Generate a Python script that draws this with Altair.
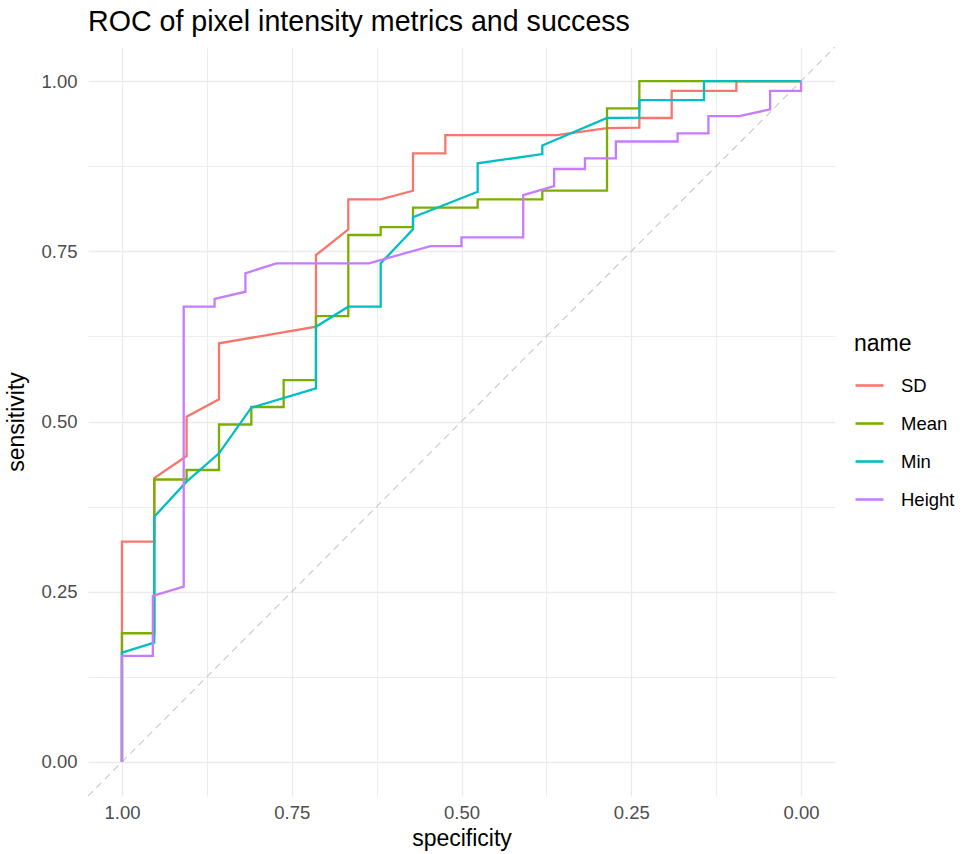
import altair as alt
import pandas as pd

names = ["SD", "Mean", "Min", "Height"]
colors = ["#F8766D", "#7CAE00", "#00BFC4", "#C77CFF"]

sd_spec = [1, 1, 0.9524, 0.9524, 0.9048, 0.9048, 0.8571, 0.8571, 0.7143, 0.7143, 0.6667, 0.6667, 0.6190,
           0.5714, 0.5714, 0.5238, 0.5238, 0.3598, 0.2857, 0.2381, 0.2381, 0.1905, 0.1905, 0.0952, 0.0952, 0]
sd_sens = [0, 0.3235, 0.3235, 0.4170, 0.4493, 0.5070, 0.5326, 0.6148, 0.6392, 0.7445, 0.7822, 0.8263, 0.8263,
           0.8389, 0.8938, 0.8938, 0.9207, 0.9207, 0.9310, 0.9317, 0.9457, 0.9457, 0.9857, 0.9857, 1.0, 1.0]

mean_spec = [1, 1, 0.9524, 0.9524, 0.9048, 0.9048, 0.8571, 0.8571, 0.8095, 0.8095, 0.7619, 0.7619, 0.7143,
             0.7143, 0.6667, 0.6667, 0.6190, 0.6190, 0.5714, 0.5714, 0.4762, 0.4762, 0.3810, 0.3810, 0.2857,
             0.2857, 0.2381, 0.2381, 0]
mean_sens = [0, 0.1890, 0.1890, 0.4148, 0.4148, 0.4288, 0.4288, 0.4956, 0.4956, 0.5213, 0.5213, 0.5609, 0.5609,
             0.6549, 0.6549, 0.7739, 0.7739, 0.7856, 0.7856, 0.8142, 0.8142, 0.8263, 0.8263, 0.8392, 0.8392,
             0.9599, 0.9599, 1, 1]

min_spec = [1, 1, 0.9524, 0.9524, 0.9048, 0.8571, 0.8095, 0.7143, 0.7143, 0.6667, 0.6190, 0.6190, 0.5714,
            0.5714, 0.4762, 0.4762, 0.3810, 0.3810, 0.2857, 0.2381, 0.2381, 0.1429, 0.1429, 0]
min_sens = [0, 0.1605, 0.1752, 0.3602, 0.4116, 0.4533, 0.5203, 0.5487, 0.6392, 0.6686, 0.6686, 0.7323, 0.7822,
            0.7999, 0.8374, 0.8791, 0.8928, 0.9053, 0.9457, 0.9464, 0.9721, 0.9721, 1, 1]

height_spec = [1, 1, 0.9545, 0.9545, 0.9091, 0.9091, 0.8636, 0.8636, 0.8182, 0.8182, 0.7727, 0.6364, 0.5455,
               0.5, 0.5, 0.4091, 0.4091, 0.3636, 0.3636, 0.3182, 0.3182, 0.2727, 0.2727, 0.1818, 0.1818,
               0.1364, 0.1364, 0.0909, 0.0455, 0.0455, 0, 0]
height_sens = [0, 0.1557, 0.1557, 0.2438, 0.2574, 0.6686, 0.6686, 0.6799, 0.6906, 0.7176, 0.7323, 0.7323,
               0.7577, 0.7577, 0.7705, 0.7705, 0.8326, 0.8458, 0.8708, 0.8708, 0.8865, 0.8865, 0.9112, 0.9112,
               0.9232, 0.9232, 0.9486, 0.9486, 0.9584, 0.9857, 0.9857, 1]

grid_values = [0, 0.125, 0.25, 0.375, 0.5, 0.625, 0.75, 0.875, 1]
diag_spec = [1.05, -0.05]
diag_sens = [-0.05, 1.05]

rows = []
for nm, sp, se in zip(names, [sd_spec, mean_spec, min_spec, height_spec],
                      [sd_sens, mean_sens, min_sens, height_sens]):
    for i, (a, b) in enumerate(zip(sp, se)):
        rows.append({"name": nm, "specificity": a, "sensitivity": b, "idx": i})
df = pd.DataFrame(rows)
diag = pd.DataFrame({"specificity": diag_spec, "sensitivity": diag_sens})

FONT = "Liberation Sans"
label_expr = "(datum.value * 4) % 1 == 0 ? format(datum.value, '.2f') : ''"
grid_w = {"condition": {"test": "(datum.value * 4) % 1 == 0", "value": 1.3}, "value": 0.9}

xscale = alt.Scale(domain=[-0.05, 1.05], reverse=True, nice=False, zero=False)
yscale = alt.Scale(domain=[-0.05, 1.05], nice=False, zero=False)

xaxis = alt.Axis(values=grid_values, labelExpr=label_expr, grid=True, gridColor="#EBEBEB",
                 gridWidth=grid_w, ticks=False, tickSize=0, domain=False, labelFontSize=18.5,
                 labelColor="#4D4D4D", labelPadding=7, labelOverlap=False, labelFont=FONT,
                 title="specificity", titleFontSize=23, titleFontWeight="normal", titleColor="black",
                 titleFont=FONT, titlePadding=6)
yaxis = alt.Axis(values=grid_values, labelExpr=label_expr, grid=True, gridColor="#EBEBEB",
                 gridWidth=grid_w, ticks=False, tickSize=0, domain=False, labelFontSize=18.5,
                 labelColor="#4D4D4D", labelPadding=11, labelOverlap=False, labelFont=FONT,
                 title="sensitivity", titleFontSize=23, titleFontWeight="normal", titleColor="black",
                 titleFont=FONT, titlePadding=12)

diag_layer = alt.Chart(diag).mark_line(color="#C8C8C8", strokeWidth=1.1, strokeDash=[7, 5], clip=True).encode(
    x=alt.X("specificity:Q", scale=xscale, axis=xaxis),
    y=alt.Y("sensitivity:Q", scale=yscale, axis=yaxis),
)

lines = alt.Chart(df).mark_line(strokeWidth=2.3, interpolate="linear").encode(
    x=alt.X("specificity:Q", scale=xscale, axis=xaxis),
    y=alt.Y("sensitivity:Q", scale=yscale, axis=yaxis),
    color=alt.Color("name:N", scale=alt.Scale(domain=names, range=colors), sort=names,
                    legend=alt.Legend(title="name", orient="none", legendX=766, legendY=286,
                                      symbolType="stroke", symbolSize=784, symbolStrokeWidth=2.6,
                                      labelFontSize=18.5, labelFont=FONT, labelColor="black",
                                      titleFontSize=23, titleFont=FONT, titleFontWeight="normal",
                                      titleColor="black", labelOffset=16, rowPadding=13,
                                      titlePadding=14, padding=0)),
    order=alt.Order("idx:Q"),
    detail="name:N",
)

chart = alt.layer(diag_layer, lines).properties(
    width=747, height=749,
    title=alt.TitleParams("ROC of pixel intensity metrics and success", anchor="start", frame="group",
                          fontSize=28.6, font=FONT, fontWeight="normal", color="black", offset=10),
    autosize=alt.AutoSizeParams(type="none"),
    padding={"left": 88, "top": 47, "right": 127, "bottom": 58},
    background="white",
).configure_view(stroke=None)

chart.save("out.html", embed_options={"renderer": "svg", "actions": False})
